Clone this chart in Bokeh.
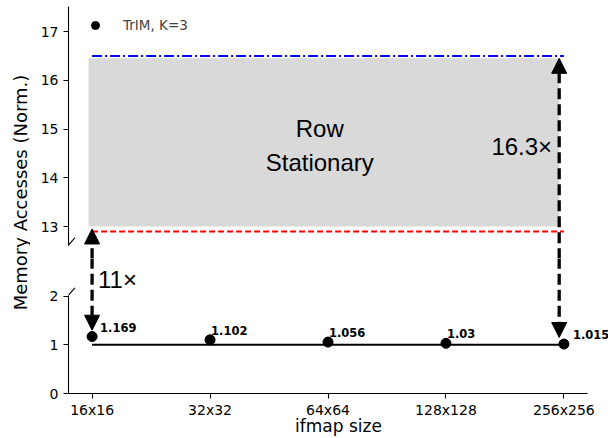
from bokeh.plotting import figure
from bokeh.layouts import row, column
from bokeh.models import (Range1d, FixedTicker, Arrow, NormalHead, Label, LabelSet, Legend,
                          LegendItem, ColumnDataSource)
from bokeh.core.properties import value
from bokeh.embed import file_html
from bokeh.resources import INLINE

# ---------------- data ----------------
categories = ["16x16", "32x32", "64x64", "128x128", "256x256"]
trim_values = [1.169, 1.102, 1.056, 1.03, 1.015]
value_labels = ["1.169", "1.102", "1.056", "1.03", "1.015"]
baseline_value = 1.0
rs_low = 12.9          # red dashed line (Row Stationary min)
rs_high = 16.5         # blue dash-dot line (Row Stationary max)
rs_band = [13.0, 16.45]
lower_ticks = [0, 1, 2]
upper_ticks = [13, 14, 15, 16, 17]
arrow_11x = [1.3, 12.95]      # from (lower panel) -> to (upper panel)
arrow_16x = [16.45, 1.15]     # from (upper panel) -> to (lower panel)
ratio_texts = ["11\u00d7", "16.3\u00d7"]

xs = list(range(len(categories)))

# ---------------- style / layout ----------------
FONT = "DejaVu Sans"
ANN_FONT = "Liberation Sans"
W_LABEL = 30
W = 608 - W_LABEL
H_UP = 258
H_LOW = 438 - H_UP
x_range = Range1d(-0.2, 4.378)     # frame runs to the window edge; spine bounded below
x_bounds = (-0.2, 4.2)
up_range = Range1d(12.344, 17.513)
low_range = Range1d(0, 2.772)
up_bounds = (12.62, 17.513)
low_bounds = (0, 2.02)
label_dx = [8, 1, 1, 1, 9]
arrow_x = [xs[0], xs[-1] - 0.04]
band_x = [xs[0] - 0.03, xs[-1] - 0.04]
DASH = "11 5"


def style_y(p, ticks, bounds):
    ax = p.yaxis[0]
    ax.ticker = FixedTicker(ticks=ticks)
    ax.bounds = bounds
    ax.axis_line_color = "black"
    ax.axis_line_width = 1.1
    ax.major_tick_line_color = "black"
    ax.major_tick_line_width = 1.1
    ax.major_tick_out = 5
    ax.major_tick_in = 0
    ax.minor_tick_line_color = None
    ax.major_label_text_font = FONT
    ax.major_label_text_font_size = "14px"
    ax.major_label_text_color = "black"
    ax.major_label_standoff = 5
    p.grid.visible = False
    p.outline_line_color = None


# ---------- y-axis label strip ----------
lab = figure(width=W_LABEL, height=438, x_range=Range1d(0, W_LABEL), y_range=Range1d(0, 438),
             x_axis_type=None, y_axis_type=None, min_border=0, toolbar_location=None,
             output_backend="svg", title=None)
lab.outline_line_color = None
lab.add_layout(Label(x=19.5, y=438 - 192, text="Memory Accesses (Norm.)", angle=90, angle_units="deg",
                     text_align="center", text_baseline="middle", text_font=FONT,
                     text_font_size="18px", text_color="black"))

# ---------- upper panel ----------
up = figure(width=W, height=H_UP, x_range=x_range, y_range=up_range, x_axis_location=None,
            min_border_left=38, min_border_right=0, min_border_top=6, min_border_bottom=0,
            toolbar_location=None, output_backend="svg", title=None)
style_y(up, upper_ticks, up_bounds)

up.quad(left=[band_x[0]], right=[band_x[1]], bottom=[rs_band[0]], top=[rs_band[1]],
        fill_color="#d9d9d9", line_color=None)
up.line(x=[xs[0], xs[-1]], y=[rs_low, rs_low], line_color="red", line_width=2, line_dash="6 3")
up.line(x=[xs[0], xs[-1]], y=[rs_high, rs_high], line_color="blue", line_width=2,
        line_dash="10 3 2 3")

# legend (dummy renderer, data falls outside this panel's range)
r_leg = up.scatter(x=xs, y=trim_values, size=10, color="black")
legend = Legend(items=[LegendItem(label="TrIM, K=3", renderers=[r_leg])], location="top_left",
                margin=9, padding=10, glyph_width=36, glyph_height=20, label_standoff=10,
                border_line_color=None, background_fill_alpha=0,
                label_text_font=FONT, label_text_font_size="13.5px")
up.add_layout(legend)

up.add_layout(Label(x=1.93, y=14.66, text="Row\nStationary", text_align="center",
                    text_baseline="middle", text_font=ANN_FONT, text_font_size="24px",
                    text_line_height=1.28, text_color="black"))
up.add_layout(Label(x=3.90, y=14.65, text=ratio_texts[1], text_align="right",
                    text_baseline="middle", text_font=ANN_FONT, text_font_size="24px",
                    text_color="black"))

# arrows, upper parts
up.add_layout(Arrow(x_start=arrow_x[0], y_start=up_range.start - 1, x_end=arrow_x[0], y_end=arrow_11x[1],
                    line_width=3.3, line_dash=DASH, line_color="black",
                    end=NormalHead(size=15, fill_color="black", line_color="black", line_width=1)))
up.add_layout(Arrow(x_start=arrow_x[1], y_start=up_range.start - 1, x_end=arrow_x[1], y_end=arrow_16x[0],
                    line_width=3.3, line_dash=DASH, line_color="black",
                    end=NormalHead(size=15, fill_color="black", line_color="black", line_width=1)))
# break mark
up.add_layout(Arrow(x_start=-0.2 - 0.055, y_start=up_bounds[0] - 0.15, x_end=-0.2 + 0.055,
                    y_end=up_bounds[0] + 0.15, start=None, end=None, line_width=1.1, line_color="black"))

# ---------- lower panel ----------
low = figure(width=W, height=H_LOW, x_range=x_range, y_range=low_range,
             min_border_left=38, min_border_right=0, min_border_top=0, min_border_bottom=45,
             toolbar_location=None, output_backend="svg", title=None)
style_y(low, lower_ticks, low_bounds)
xa = low.xaxis[0]
xa.ticker = FixedTicker(ticks=xs)
xa.bounds = x_bounds
xa.major_label_overrides = {i: c for i, c in zip(xs, categories)}
xa.axis_line_color = "black"
xa.axis_line_width = 1.1
xa.major_tick_line_color = "black"
xa.major_tick_line_width = 1.1
xa.major_tick_out = 5
xa.major_tick_in = 0
xa.minor_tick_line_color = None
xa.major_label_text_font = FONT
xa.major_label_text_font_size = "14px"
xa.major_label_text_color = "black"
xa.major_label_standoff = 3
xa.axis_label = "ifmap size"
xa.axis_label_text_font = FONT
xa.axis_label_text_font_size = "17px"
xa.axis_label_text_font_style = "normal"
xa.axis_label_text_color = "black"
xa.axis_label_standoff = -5

low.line(x=[xs[0], xs[-1]], y=[baseline_value, baseline_value], line_color="black", line_width=2)
low.scatter(x=xs, y=trim_values, size=10, color="black")
src = ColumnDataSource(dict(x=xs, y=trim_values, t=value_labels, dx=label_dx))
low.add_layout(LabelSet(x="x", y="y", text="t", x_offset="dx", y_offset=9.5, source=src,
                        text_align="left", text_baseline="middle", text_font=value(FONT),
                        text_font_style="bold", text_font_size="11.5px", text_color="black"))

low.add_layout(Label(x=0.05, y=2.34, text=ratio_texts[0], text_align="left", text_baseline="middle",
                     text_font=ANN_FONT, text_font_size="24px", text_color="black"))

low.add_layout(Arrow(x_start=arrow_x[0], y_start=low_range.end + 1, x_end=arrow_x[0], y_end=arrow_11x[0],
                     line_width=3.3, line_dash=DASH, line_color="black",
                     end=NormalHead(size=15, fill_color="black", line_color="black", line_width=1)))
low.add_layout(Arrow(x_start=arrow_x[1], y_start=low_range.end + 1, x_end=arrow_x[1], y_end=arrow_16x[1],
                     line_width=3.3, line_dash=DASH, line_color="black",
                     end=NormalHead(size=15, fill_color="black", line_color="black", line_width=1)))
low.add_layout(Arrow(x_start=-0.2 - 0.055, y_start=low_bounds[1] - 0.15, x_end=-0.2 + 0.055,
                     y_end=low_bounds[1] + 0.15, start=None, end=None, line_width=1.1, line_color="black"))

layout = row(lab, column(up, low, spacing=0), spacing=0)
open("out.html", "w").write(file_html(layout, INLINE))
